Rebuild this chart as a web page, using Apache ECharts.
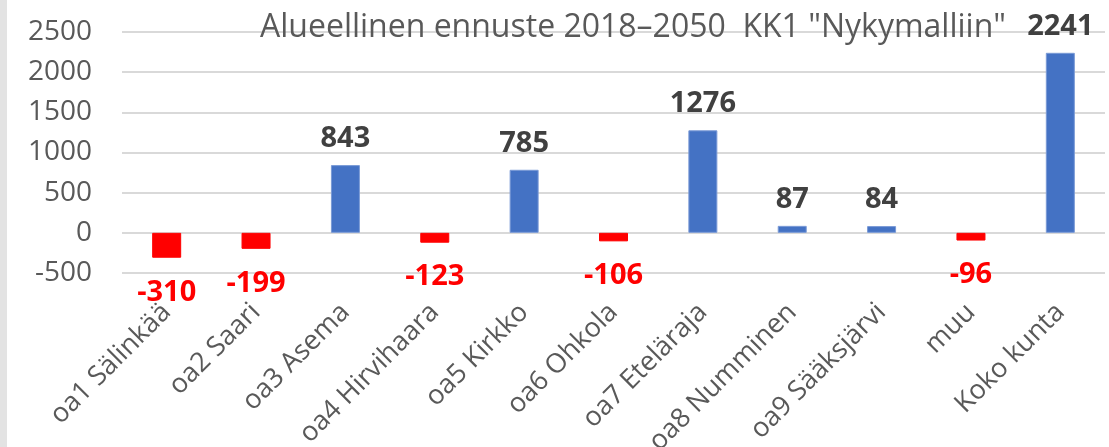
<!DOCTYPE html>
<html><head><meta charset="utf-8">
<script src="https://cdn.jsdelivr.net/npm/echarts@6/dist/echarts.min.js"></script>
<style>html,body{margin:0;padding:0;background:#fff}#c{width:1109px;height:447px}
#strip{position:absolute;left:0;top:0;width:7px;height:447px;background:#e3e3e3}</style>
</head><body><div id="c"></div><div id="strip"></div>
<script>
const categories = ['oa1 Sälinkää','oa2 Saari','oa3 Asema','oa4 Hirvihaara','oa5 Kirkko','oa6 Ohkola','oa7 Eteläraja','oa8 Numminen','oa9 Sääksjärvi','muu','Koko kunta'];
const values = [-310,-199,843,-123,785,-106,1276,87,84,-96,2241];
const titleText = 'Alueellinen ennuste 2018–2050  KK1 "Nykymalliin"';

const chart = echarts.init(document.getElementById('c'));
const data = values.map(v => v < 0 ? {
  value: v,
  itemStyle: {color: '#FF0000', borderColor: '#FF0000'},
  label: {position: 'bottom', color: '#FF0000', distance: 20}
} : {value: v});
chart.setOption({
  animation: false,
  textStyle: {fontFamily: 'Open Sans'},
  title: {text: titleText, left: 255, top: 7,
    textStyle: {fontFamily: 'Open Sans', fontSize: 32, fontWeight: 'normal', color: '#595959'}},
  grid: {left: 122, right: 4, top: 32, bottom: 174, containLabel: false, outerBoundsMode: 'none'},
  xAxis: {type: 'category', data: categories,
    axisLine: {show: false}, axisTick: {show: false},
    axisLabel: {rotate: 45, margin: 35, interval: 0, fontSize: 27, color: '#595959', fontFamily: 'Open Sans'}},
  yAxis: {type: 'value', min: -500, max: 2500, interval: 500,
    axisLine: {show: false}, axisTick: {show: false},
    splitLine: {lineStyle: {color: '#d9d9d9', width: 2}},
    axisLabel: {fontSize: 28, color: '#595959', margin: 30, fontFamily: 'Open Sans', formatter: v => String(v)}},
  series: [{type: 'bar', data: data, barWidth: 29,
    itemStyle: {color: '#4472C4', borderColor: '#7a9ad6', borderWidth: 1},
    label: {show: true, position: 'top', distance: 12, fontSize: 29, fontWeight: 'bold', color: '#404040', fontFamily: 'Open Sans'}}]
});
</script></body></html>
